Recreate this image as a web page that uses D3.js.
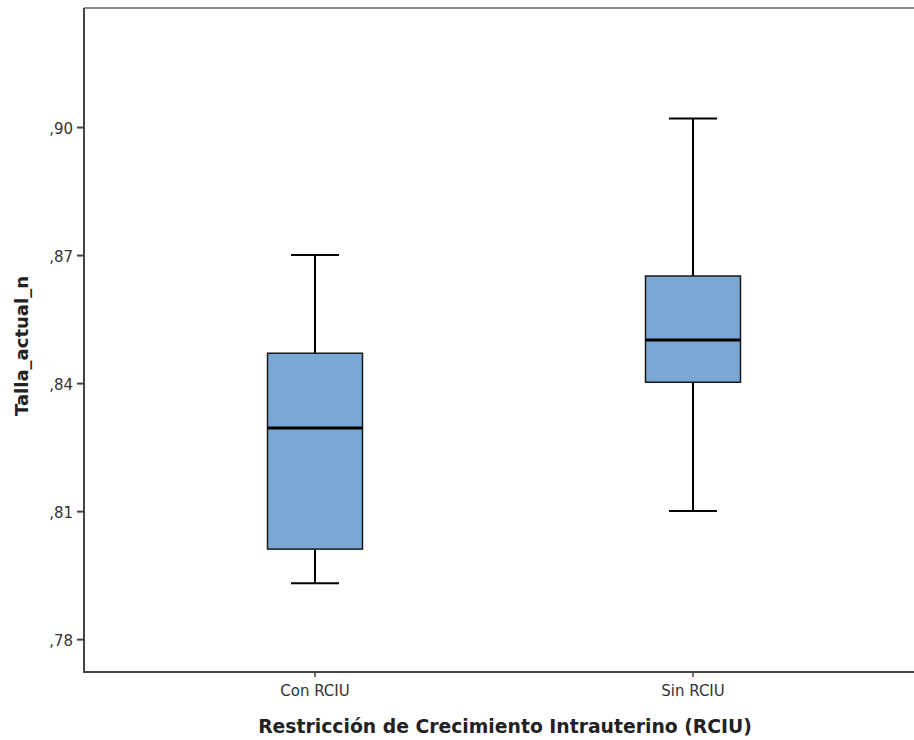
<!DOCTYPE html>
<html><head><meta charset="utf-8">
<script src="https://cdn.jsdelivr.net/npm/d3@7"></script>
<style>body{margin:0;background:#fff}svg{display:block}</style>
</head><body>
<script>
const categories = ["Con RCIU", "Sin RCIU"];
const whiskerLow = [0.7931, 0.8100];
const q1 = [0.8011, 0.8402];
const median = [0.8295, 0.8501];
const q3 = [0.8470, 0.8651];
const whiskerHigh = [0.8700, 0.9020];
const yTicks = [0.78, 0.81, 0.84, 0.87, 0.90];
const yTickLabels = [",78", ",81", ",84", ",87", ",90"];
const xTitle = "Restricción de Crecimiento Intrauterino (RCIU)";
const yTitle = "Talla_actual_n";

(function () {
const W = 914, H = 740;
const mLeft = 84, mTop = 8, mBottom = 672, mRight = 924;
const svg = d3.select("body").append("svg").attr("width", W).attr("height", H);

const y = d3.scaleLinear().domain([0.7723, 0.9279]).range([mBottom, mTop]);
const x = d3.scaleBand().domain(categories).range([mLeft, mRight]).paddingInner(0.75).paddingOuter(0.4861);

const boxW = 95, capW = 48;
const data = categories.map((c, i) => ({c, lo: whiskerLow[i], q1: q1[i], med: median[i], q3: q3[i], hi: whiskerHigh[i]}));

svg.append("line").attr("x1", mLeft).attr("x2", W).attr("y1", mTop).attr("y2", mTop)
  .attr("stroke", "#8a8a8a").attr("stroke-width", 2);

const g = svg.append("g");
data.forEach(d => {
  const cx = x(d.c) + x.bandwidth() / 2;
  g.append("line").attr("x1", cx).attr("x2", cx).attr("y1", y(d.hi)).attr("y2", y(d.q3)).attr("stroke", "#000").attr("stroke-width", 2);
  g.append("line").attr("x1", cx).attr("x2", cx).attr("y1", y(d.q1)).attr("y2", y(d.lo)).attr("stroke", "#000").attr("stroke-width", 2);
  g.append("line").attr("x1", cx - capW/2).attr("x2", cx + capW/2).attr("y1", y(d.hi)).attr("y2", y(d.hi)).attr("stroke", "#000").attr("stroke-width", 2);
  g.append("line").attr("x1", cx - capW/2).attr("x2", cx + capW/2).attr("y1", y(d.lo)).attr("y2", y(d.lo)).attr("stroke", "#000").attr("stroke-width", 2);
  g.append("rect").attr("x", cx - boxW/2).attr("y", y(d.q3)).attr("width", boxW).attr("height", y(d.q1) - y(d.q3))
    .attr("fill", "#79a8d5").attr("stroke", "#1a1a1a").attr("stroke-width", 1.5);
  g.append("line").attr("x1", cx - boxW/2).attr("x2", cx + boxW/2).attr("y1", y(d.med)).attr("y2", y(d.med)).attr("stroke", "#000").attr("stroke-width", 3);
});

const yAxis = d3.axisLeft(y).tickValues(yTicks).tickFormat((d, i) => yTickLabels[i]).tickSize(7).tickSizeOuter(0);
const ya = svg.append("g").attr("transform", `translate(${mLeft},0)`).call(yAxis);
ya.select(".domain").attr("stroke", "#444").attr("stroke-width", 2).attr("d", `M0,${mTop}V${mBottom+1}`);
ya.selectAll(".tick line").attr("stroke", "#444").attr("stroke-width", 2);
ya.selectAll(".tick text").attr("font-family", "'DejaVu Sans', sans-serif").attr("font-size", 15).attr("fill", "#333").attr("x", -11).attr("dy", "0.4em");

const xAxis = d3.axisBottom(x).tickSize(5).tickSizeOuter(0).tickPadding(8);
const xa = svg.append("g").attr("transform", `translate(0,${mBottom})`).call(xAxis);
xa.select(".domain").attr("stroke", "#444").attr("stroke-width", 2).attr("d", `M${mLeft-1},0H${W}`);
xa.selectAll(".tick line").attr("stroke", "#444").attr("stroke-width", 1.5);
xa.selectAll(".tick text").attr("font-family", "'DejaVu Sans', sans-serif").attr("font-size", 15).attr("fill", "#333");

svg.append("text").attr("x", 505).attr("y", 733).attr("text-anchor", "middle")
  .attr("font-family", "'DejaVu Sans', sans-serif").attr("font-weight", "bold").attr("font-size", 18.8).attr("fill", "#222").text(xTitle);
svg.append("text").attr("transform", "translate(28,346) rotate(-90)").attr("text-anchor", "middle")
  .attr("font-family", "'DejaVu Sans', sans-serif").attr("font-weight", "bold").attr("font-size", 18).attr("fill", "#222").text(yTitle);
})();
</script>
</body></html>
